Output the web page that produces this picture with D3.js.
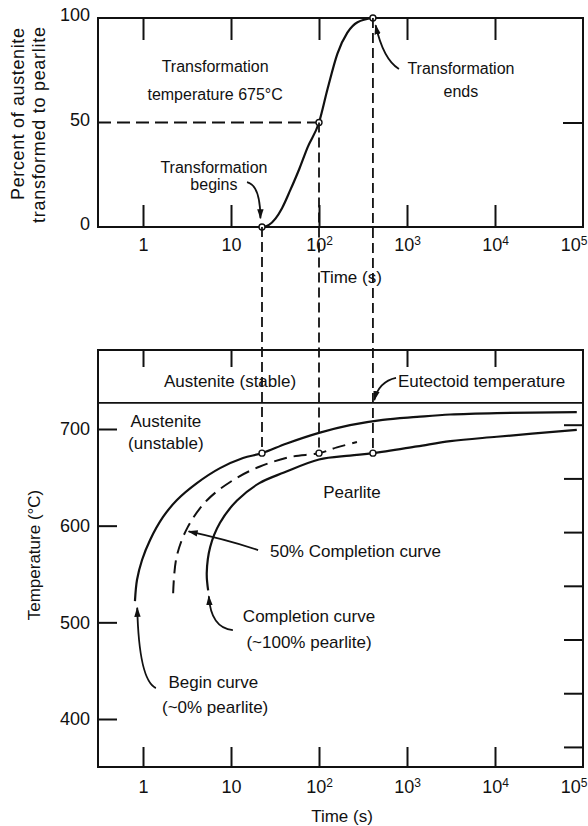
<!DOCTYPE html>
<html>
<head>
<meta charset="utf-8">
<script src="https://cdn.jsdelivr.net/npm/d3@7"></script>
<style>
body { margin: 0; background: #fff; }
svg text { font-family: "Liberation Sans", Arial, sans-serif; fill: #111; }
</style>
</head>
<body>
<svg id="chart" width="588" height="826"></svg>
<script>
// ---- data ----
var decades = [1, 10, 100, 1000, 10000, 100000];
var innerDecades = [1, 10, 100, 1000, 10000];
var pctTicks = [0, 50, 100];
var tempTicks = [400, 500, 600, 700];
var fahrTicks = [700, 800, 900, 1000, 1100, 1200, 1300];

// top: percent transformed at 675 C
var topTime = [22.5, 27, 32, 38, 47, 60, 74, 100, 125, 162, 210, 274, 410];
var topPct = [0, 1, 4, 9, 17.5, 28, 38, 50, 66, 83, 93, 98, 100];

// bottom: isothermal transformation curves
var beginTime = [0.81, 0.855, 0.975, 1.2, 1.69, 2.43, 4.1, 7.5, 13.7, 22.5, 43, 100, 225, 530, 1300, 3100, 10500, 85000];
var beginTemp = [522, 544, 564.5, 585, 609, 626.5, 644, 659.5, 670, 675, 685, 696, 704, 709.5, 712.5, 715, 716.5, 717.5];
var halfTime = [2.2, 2.4, 3.2, 5.3, 10.5, 21, 47, 100, 160, 270];
var halfTemp = [530, 567, 598, 626, 647, 661, 671, 675, 681, 686.5];
var endTime = [5.5, 5.3, 5.8, 7.5, 11.7, 21, 40, 100, 225, 410, 1300, 3100, 10500, 85000];
var endTemp = [533, 551, 578, 603, 626, 644, 655, 668.5, 672.5, 675, 682, 687.5, 692, 699];

var eutectoid = 727;
var transTemp = 675;
var markTime = [22.5, 100, 410];
var markPct = [0, 50, 100];

// ---- layout ----
var svg = d3.select("#chart");
var left = 98, right = 583;
var topTop = 18, topBottom = 227;
var botTop = 350, botBottom = 767;

var x = d3.scaleLog().domain([0.308, 1e5]).range([left, right]);
var yTop = d3.scaleLinear().domain([0, 100]).range([topBottom, topTop]);
var yBot = d3.scaleLinear().domain([400, 700]).range([719, 429]);

var defs = svg.append("defs");
defs.append("marker").attr("id", "arrow")
    .attr("viewBox", "0 0 10 10").attr("refX", 9).attr("refY", 5)
    .attr("markerWidth", 10).attr("markerHeight", 10)
    .attr("markerUnits", "userSpaceOnUse").attr("orient", "auto")
    .append("path").attr("d", "M0,1.8 L10,5 L0,8.2 Z").attr("fill", "#111");

function zip(a, b) { return a.map(function (v, i) { return [v, b[i]]; }); }

function decadeLabels(g) {
    g.selectAll(".tick text").each(function (d) {
        var t = d3.select(this).text("");
        var e = Math.round(Math.log10(d));
        if (e < 2) { t.text(d); return; }
        t.append("tspan").text("10");
        t.append("tspan").attr("dy", "-0.45em").attr("font-size", "12px").text(e);
        // last label sits against the page edge
        if (d === 1e5) t.attr("text-anchor", "end").attr("x", 4);
    });
}

function styleAxis(g, size) {
    g.select(".domain").remove();
    g.selectAll(".tick line").attr("stroke", "#111").attr("stroke-width", 2);
    g.selectAll(".tick text").attr("font-size", size + "px")
        .attr("font-family", "Liberation Sans, Arial, sans-serif").attr("fill", "#111");
}

// ================= TOP CHART =================
var topG = svg.append("g");

topG.append("g").attr("transform", "translate(0," + topBottom + ")")
    .call(d3.axisBottom(x).tickValues(decades).tickSize(-22).tickSizeOuter(0).tickPadding(11))
    .call(function (g) { styleAxis(g, 18); decadeLabels(g); })
    .call(function (g) { g.selectAll(".tick").filter(function (d) { return d === 1e5; }).select("line").remove(); });

topG.append("g").attr("transform", "translate(0," + topTop + ")")
    .call(d3.axisTop(x).tickValues(innerDecades).tickSize(-22).tickFormat(""))
    .call(function (g) { styleAxis(g, 18); });

topG.append("g").attr("transform", "translate(" + left + ",0)")
    .call(d3.axisLeft(yTop).tickValues(pctTicks).tickSize(0).tickPadding(8))
    .call(function (g) { styleAxis(g, 18); g.selectAll(".tick text").attr("dy", "0.15em"); });

topG.append("g").attr("transform", "translate(" + right + ",0)")
    .call(d3.axisRight(yTop).tickValues([50]).tickSize(-20).tickFormat(""))
    .call(function (g) { styleAxis(g, 18); });

topG.append("rect").attr("x", left).attr("y", topTop)
    .attr("width", right - left).attr("height", topBottom - topTop)
    .attr("fill", "none").attr("stroke", "#111").attr("stroke-width", 2);

// 50% guide
topG.append("line")
    .attr("x1", left).attr("x2", x(markTime[1]))
    .attr("y1", yTop(50)).attr("y2", yTop(50))
    .attr("stroke", "#111").attr("stroke-width", 1.8).attr("stroke-dasharray", "13,6");

// vertical guides down to the 675 C isotherm
svg.append("g").selectAll("line").data(markTime).join("line")
    .attr("x1", function (d) { return x(d); }).attr("x2", function (d) { return x(d); })
    .attr("y1", function (d, i) { return yTop(markPct[i]); })
    .attr("y2", yBot(transTemp))
    .attr("stroke", "#111").attr("stroke-width", 1.8).attr("stroke-dasharray", "10,5");

var lineTop = d3.line()
    .x(function (d) { return x(d[0]); }).y(function (d) { return yTop(d[1]); })
    .curve(d3.curveMonotoneX);

topG.append("path").datum(zip(topTime, topPct)).attr("d", lineTop)
    .attr("fill", "none").attr("stroke", "#111").attr("stroke-width", 2.2);

topG.selectAll("circle").data(markTime).join("circle")
    .attr("cx", function (d) { return x(d); })
    .attr("cy", function (d, i) { return yTop(markPct[i]); })
    .attr("r", 3).attr("fill", "#fff").attr("stroke", "#111").attr("stroke-width", 1.4);

// annotations (data coords)
var topNotes = [
    { t: 6.6, v: 74.2, s: "Transformation", a: "middle" },
    { t: 6.6, v: 60.8, s: "temperature " + transTemp + "\u00B0C", a: "middle" },
    { t: 6.4, v: 25.8, s: "Transformation", a: "middle" },
    { t: 6.4, v: 17.7, s: "begins", a: "middle" },
    { t: 4100, v: 73.2, s: "Transformation", a: "middle" },
    { t: 4100, v: 62.2, s: "ends", a: "middle" }
];
topG.selectAll("text.note").data(topNotes).join("text").attr("class", "note")
    .attr("x", function (d) { return x(d.t); }).attr("y", function (d) { return yTop(d.v); })
    .attr("text-anchor", function (d) { return d.a; })
    .attr("font-size", "16px").text(function (d) { return d.s; });

var topArrows = [
    { from: [15.2, 21.5], ctrl: [21.5, 20], to: [21.6, 4.2] },
    { from: [810, 75.6], ctrl: [540, 80], to: [440, 96.5] }
];
topG.selectAll("path.arrow").data(topArrows).join("path").attr("class", "arrow")
    .attr("d", function (d) {
        return "M" + x(d.from[0]) + "," + yTop(d.from[1]) +
            "Q" + x(d.ctrl[0]) + "," + yTop(d.ctrl[1]) + " " + x(d.to[0]) + "," + yTop(d.to[1]);
    })
    .attr("fill", "none").attr("stroke", "#111").attr("stroke-width", 1.8)
    .attr("marker-end", "url(#arrow)");

topG.append("text").attr("x", 351).attr("y", 283).attr("text-anchor", "middle")
    .attr("font-size", "17px").text("Time (s)");

svg.append("text").attr("transform", "translate(24,114) rotate(-90)")
    .attr("text-anchor", "middle").attr("font-size", "18px")
    .attr("textLength", 172).attr("lengthAdjust", "spacing").text("Percent of austenite");
svg.append("text").attr("transform", "translate(45,125) rotate(-90)")
    .attr("text-anchor", "middle").attr("font-size", "18px")
    .attr("textLength", 196).attr("lengthAdjust", "spacing").text("transformed to pearlite");

// ================= BOTTOM CHART =================
var botG = svg.append("g");

botG.append("g").attr("transform", "translate(0," + botBottom + ")")
    .call(d3.axisBottom(x).tickValues(decades).tickSize(-20).tickSizeOuter(0).tickPadding(13))
    .call(function (g) { styleAxis(g, 18); decadeLabels(g); })
    .call(function (g) { g.selectAll(".tick").filter(function (d) { return d === 1e5; }).select("line").remove(); });

botG.append("g").attr("transform", "translate(0," + botTop + ")")
    .call(d3.axisTop(x).tickValues([1, 10, 1000, 10000]).tickSize(-17).tickFormat(""))
    .call(function (g) { styleAxis(g, 18); });

botG.append("g").attr("transform", "translate(" + left + ",0)")
    .call(d3.axisLeft(yBot).tickValues(tempTicks).tickSize(-19).tickPadding(8))
    .call(function (g) { styleAxis(g, 18); });

botG.append("g").attr("transform", "translate(" + right + ",0)")
    .call(d3.axisRight(yBot).tickValues(fahrTicks.map(function (f) { return (f - 32) * 5 / 9; }))
        .tickSize(-19).tickFormat(""))
    .call(function (g) { styleAxis(g, 18); });

botG.append("rect").attr("x", left).attr("y", botTop)
    .attr("width", right - left).attr("height", botBottom - botTop)
    .attr("fill", "none").attr("stroke", "#111").attr("stroke-width", 2);

botG.append("line").attr("x1", left).attr("x2", right)
    .attr("y1", yBot(eutectoid)).attr("y2", yBot(eutectoid))
    .attr("stroke", "#111").attr("stroke-width", 1.8);

var lineBot = d3.line()
    .x(function (d) { return x(d[0]); }).y(function (d) { return yBot(d[1]); })
    .curve(d3.curveCatmullRom.alpha(0.5));

botG.append("path").datum(zip(beginTime, beginTemp)).attr("d", lineBot)
    .attr("fill", "none").attr("stroke", "#111").attr("stroke-width", 2.2);
botG.append("path").datum(zip(halfTime, halfTemp)).attr("d", lineBot)
    .attr("fill", "none").attr("stroke", "#111").attr("stroke-width", 2)
    .attr("stroke-dasharray", "13,7");
botG.append("path").datum(zip(endTime, endTemp)).attr("d", lineBot)
    .attr("fill", "none").attr("stroke", "#111").attr("stroke-width", 2.2);

botG.selectAll("circle").data(markTime).join("circle")
    .attr("cx", function (d) { return x(d); }).attr("cy", yBot(transTemp))
    .attr("r", 3).attr("fill", "#fff").attr("stroke", "#111").attr("stroke-width", 1.4);

var botNotes = [
    { t: 9.75, v: 743.4, s: "Austenite (stable)", a: "middle" },
    { t: 790, v: 743.4, s: "Eutectoid temperature", a: "start" },
    { t: 1.82, v: 702, s: "Austenite", a: "middle" },
    { t: 1.82, v: 679.3, s: "(unstable)", a: "middle" },
    { t: 237, v: 628.6, s: "Pearlite", a: "middle" },
    { t: 27.7, v: 567.6, s: "50% Completion curve", a: "start" },
    { t: 77, v: 500.3, s: "Completion curve", a: "middle" },
    { t: 77, v: 473.4, s: "(~100% pearlite)", a: "middle" },
    { t: 6.3, v: 432, s: "Begin curve", a: "middle" },
    { t: 6.6, v: 406.2, s: "(~0% pearlite)", a: "middle" }
];
botG.selectAll("text.note").data(botNotes).join("text").attr("class", "note")
    .attr("x", function (d) { return x(d.t); }).attr("y", function (d) { return yBot(d.v); })
    .attr("text-anchor", function (d) { return d.a; })
    .attr("font-size", "17px").text(function (d) { return d.s; });

var botArrows = [
    { from: [750, 752.8], ctrl: [480, 749], to: [425, 730] },
    { from: [20.3, 574.8], ctrl: [8.5, 586], to: [3.3, 594] },
    { from: [10.5, 492], ctrl: [5.9, 494], to: [5.6, 527] },
    { from: [1.4, 432], ctrl: [0.9, 440], to: [0.86, 515] }
];
botG.selectAll("path.arrow").data(botArrows).join("path").attr("class", "arrow")
    .attr("d", function (d) {
        return "M" + x(d.from[0]) + "," + yBot(d.from[1]) +
            "Q" + x(d.ctrl[0]) + "," + yBot(d.ctrl[1]) + " " + x(d.to[0]) + "," + yBot(d.to[1]);
    })
    .attr("fill", "none").attr("stroke", "#111").attr("stroke-width", 1.8)
    .attr("marker-end", "url(#arrow)");

botG.append("text").attr("x", 342).attr("y", 822).attr("text-anchor", "middle")
    .attr("font-size", "17px").text("Time (s)");

svg.append("text").attr("transform", "translate(40,555) rotate(-90)")
    .attr("text-anchor", "middle").attr("font-size", "17px").text("Temperature (\u00B0C)");
</script>
</body>
</html>
